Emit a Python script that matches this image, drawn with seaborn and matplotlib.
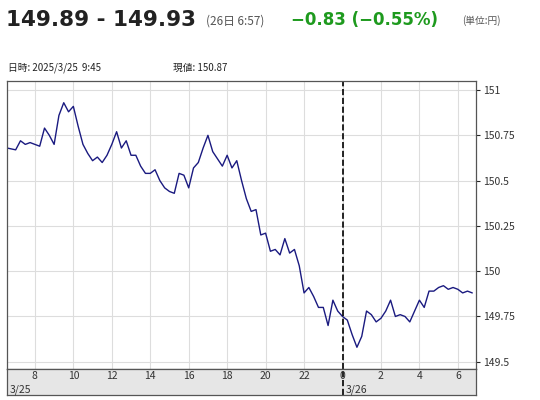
import matplotlib
matplotlib.use('Agg')
import matplotlib.pyplot as plt
import seaborn as sns
import pandas as pd

# hours since 3/25 00:00 (24 = 3/26 0:00), 15-minute steps
start_hour = 6.55
hours = [6.55] + [7.0 + 0.25 * i for i in range(96)]
prices = [
    150.68,
    150.67, 150.72, 150.70, 150.71, 150.70, 150.69, 150.79, 150.75,
    150.70, 150.86, 150.93, 150.88, 150.91, 150.80, 150.70, 150.65,
    150.61, 150.63, 150.60, 150.64, 150.70, 150.77, 150.68, 150.72,
    150.64, 150.64, 150.58, 150.54, 150.54, 150.56, 150.50, 150.46,
    150.44, 150.43, 150.54, 150.53, 150.46, 150.57, 150.60, 150.68,
    150.75, 150.66, 150.62, 150.58, 150.64, 150.57, 150.61, 150.50,
    150.40, 150.33, 150.34, 150.20, 150.21, 150.11, 150.12, 150.09,
    150.18, 150.10, 150.12, 150.03, 149.88, 149.91, 149.86, 149.80,
    149.80, 149.70, 149.84, 149.78, 149.75, 149.73, 149.65, 149.58,
    149.64, 149.78, 149.76, 149.72, 149.74, 149.78, 149.84, 149.75,
    149.76, 149.75, 149.72, 149.78, 149.84, 149.80, 149.89, 149.89,
    149.91, 149.92, 149.90, 149.91, 149.90, 149.88, 149.89, 149.88,
]
hours = hours[:len(prices)]
tick_hours = [8, 10, 12, 14, 16, 18, 20, 22, 24, 26, 28, 30]
tick_labels = ['8', '10', '12', '14', '16', '18', '20', '22', '0', '2', '4', '6']
date_hours = [start_hour, 24]
date_labels = ['3/25', '3/26']
y_ticks = [149.5, 149.75, 150, 150.25, 150.5, 150.75, 151]
y_labels = ['149.5', '149.75', '150', '150.25', '150.5', '150.75', '151']

sns.set_style('white')
plt.rcParams['font.family'] = ['Noto Sans CJK JP', 'DejaVu Sans']
latin = ['DejaVu Sans', 'Noto Sans CJK JP']

df = pd.DataFrame({'hour': hours, 'price': prices})

fig = plt.figure(figsize=(5.4, 4.0), dpi=100)
ax = fig.add_axes([0.013, 0.0775, 0.868, 0.72])
band = fig.add_axes([0.013, 0.0125, 0.868, 0.065], sharex=ax)

sns.lineplot(data=df, x='hour', y='price', ax=ax, color='#1a1a80', lw=1.0)
ax.axvline(24, color='black', ls='--', lw=1.2)

ax.set_xlim(start_hour, 30.93)
ax.set_ylim(149.46, 151.05)
ax.set_xticks(tick_hours)
ax.tick_params(axis='x', length=0, labelbottom=False)
ax.set_yticks(y_ticks)
ax.set_yticklabels(y_labels, fontsize=7.5, color='#333333')
ax.yaxis.tick_right()
ax.tick_params(axis='y', length=3, pad=2)
ax.grid(True, color='#dddddd', lw=0.8)
ax.set_xlabel('')
ax.set_ylabel('')
for s in ax.spines.values():
    s.set_color('#555555')
    s.set_linewidth(0.9)

band.set_facecolor('#e6e6e6')
band.set_yticks([])
band.tick_params(axis='x', length=0, labelbottom=False)
band.set_ylim(0, 1)
band.axvline(24, color='black', ls='--', lw=1.2, zorder=1)
for h, t in zip(tick_hours, tick_labels):
    band.text(h, 0.72, t, ha='center', va='center', fontsize=7.5, color='#333333', zorder=3)
for h, t in zip(date_hours, date_labels):
    band.text(h + 0.15, 0.22, t, ha='left', va='center', fontsize=7.5, color='#333333', zorder=3)
for s in band.spines.values():
    s.set_color('#555555')
    s.set_linewidth(0.9)

fig.text(0.012, 0.95, '149.89 - 149.93', fontsize=15.5, fontweight='bold', color='#222222',
         va='center', family=latin)
fig.text(0.382, 0.948, '(26日 6:57)', fontsize=8.5, color='#555555', va='center')
fig.text(0.538, 0.95, '−0.83 (−0.55%)', fontsize=12, fontweight='bold', color='#1e9a1e',
         va='center', family=latin)
fig.text(0.855, 0.948, '(単位:円)', fontsize=7, color='#555555', va='center')
fig.text(0.015, 0.83, '日時: 2025/3/25  9:45', fontsize=7, color='#222222', va='center')
fig.text(0.32, 0.83, '現値: 150.87', fontsize=7, color='#222222', va='center')

fig.savefig('out.png', dpi=100)
